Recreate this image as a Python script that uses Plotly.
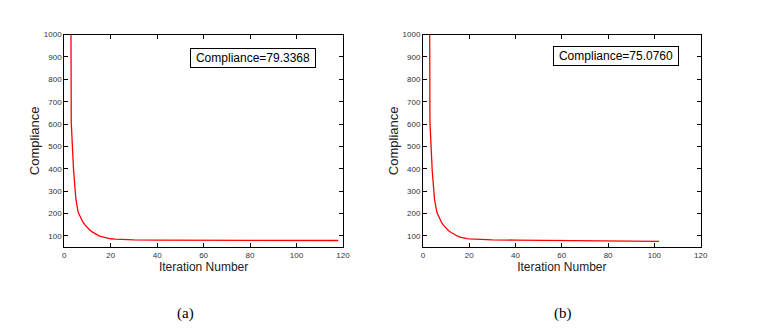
import plotly.graph_objects as go

# iteration history
iter_a = [2, 3, 4, 5, 6, 7, 8, 9, 10, 11, 12, 13, 14, 15, 16, 17, 18, 19, 20,
          22, 25, 30, 40, 50, 60, 80, 100, 118]
comp_a = [4500, 610, 395, 265, 205, 180, 162, 148, 136, 126, 118, 111, 105, 100,
          96, 93, 90.5, 88.5, 87, 85, 83.5, 82, 80.8, 80.3, 80, 79.7, 79.5, 79.3368]

iter_b = [2, 3, 4, 5, 6, 7, 8, 9, 10, 11, 12, 13, 14, 15, 16, 17, 18, 19, 20,
          22, 25, 30, 40, 50, 60, 70, 80, 90, 102]
comp_b = [4500, 610, 390, 262, 205, 178, 160, 146, 134, 124, 116, 109, 103, 98.5,
          94.5, 91.5, 89, 87.5, 86.5, 85, 83.5, 82.3, 81, 80, 78.8, 77.8, 76.8, 75.9, 75.076]

final_a = 'Compliance=79.3368'
final_b = 'Compliance=75.0760'
x_ticks = [0, 20, 40, 60, 80, 100, 120]
y_ticks = [100, 200, 300, 400, 500, 600, 700, 800, 900, 1000]

W, H = 764, 332

fig = go.Figure()
fig.add_trace(go.Scatter(x=iter_a, y=comp_a, mode='lines', xaxis='x', yaxis='y',
                         line=dict(color='#ff0000', width=1.3), showlegend=False))
fig.add_trace(go.Scatter(x=iter_b, y=comp_b, mode='lines', xaxis='x2', yaxis='y2',
                         line=dict(color='#ff0000', width=1.3), showlegend=False))

ydom = [1 - 246 / H, 1 - 31 / H]
common_x = dict(range=[0, 120], tickvals=x_ticks, ticks='inside', ticklen=4,
                tickcolor='black', showline=True, linecolor='black', linewidth=1,
                mirror='ticks', showgrid=False, zeroline=False,
                tickfont=dict(family='Arial, Liberation Sans', size=8, color='#333'),
                title=dict(text='Iteration Number', standoff=2,
                           font=dict(family='Arial, Liberation Sans', size=12, color='#222')))
common_y = dict(range=[50, 1000], tickvals=y_ticks, ticks='inside', ticklen=4,
                tickcolor='black', showline=True, linecolor='black', linewidth=1,
                mirror='ticks', showgrid=False, zeroline=False,
                tickfont=dict(family='Arial, Liberation Sans', size=8, color='#333'),
                title=dict(text='Compliance', standoff=1,
                           font=dict(family='Arial, Liberation Sans', size=13, color='#222')))

fig.update_layout(
    width=W, height=H,
    margin=dict(l=0, r=0, t=0, b=0),
    paper_bgcolor='white', plot_bgcolor='white',
    xaxis=dict(domain=[63 / W, 345 / W], anchor='y', **common_x),
    yaxis=dict(domain=ydom, anchor='x', **common_y),
    xaxis2=dict(domain=[426 / W, 707 / W], anchor='y2', **common_x),
    yaxis2=dict(domain=ydom, anchor='x2', **common_y),
)

box_font = dict(family='Arial, Liberation Sans', size=12, color='black')
fig.add_annotation(x=81.3, y=894, xref='x', yref='y', text=final_a, showarrow=False,
                   font=box_font, bordercolor='black', borderwidth=1, borderpad=2,
                   bgcolor='white', width=120)
fig.add_annotation(x=83.5, y=905, xref='x2', yref='y2', text=final_b, showarrow=False,
                   font=box_font, bordercolor='black', borderwidth=1, borderpad=2,
                   bgcolor='white', width=120)

lab_font = dict(family='Liberation Serif, Times New Roman', size=15, color='black')
fig.add_annotation(x=186 / W, y=1 - 313 / H, xref='paper', yref='paper', text='(a)',
                   xanchor='center', yanchor='middle', showarrow=False, font=lab_font)
fig.add_annotation(x=568 / W, y=1 - 313 / H, xref='paper', yref='paper', text='(b)',
                   xanchor='center', yanchor='middle', showarrow=False, font=lab_font)

# drop the default body margin so the figure sits at the page origin
fig.write_html("out.html", config={'displayModeBar': False},
               post_script="document.body.style.margin='0px';")
